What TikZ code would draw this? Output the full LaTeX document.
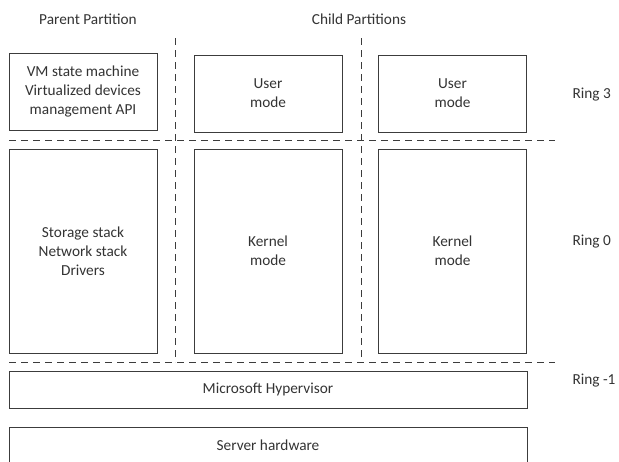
\documentclass[tikz,border=0pt]{standalone}
\usepackage{fontspec}
\setmainfont{Carlito}
\usepackage{xcolor}
\usetikzlibrary{positioning}
\definecolor{linegray}{HTML}{3C3C3C}
\definecolor{textgray}{HTML}{333333}

\begin{document}
\begin{tikzpicture}[
  x=1pt, y=-1pt,
  every node/.style={align=center, text=textgray, font=\fontsize{15.3}{19}\selectfont},
  box/.style={draw=linegray, line width=0.9pt, inner sep=0pt},
  small/.style={box, minimum width=148pt, minimum height=77pt},
  tall/.style={box, minimum width=148pt, minimum height=204pt},
  wide/.style={box, minimum width=518pt, minimum height=37pt},
  ring/.style={anchor=west},
  divider/.style={draw=linegray, line width=0.8pt, dash pattern=on 7pt off 5pt}
]
\useasboundingbox (0,0) rectangle (619,461);
% Headings
\node (parent) at (88,19) {Parent Partition};
\node (child) at (359,19) {Child Partitions};
% Ring 3
\node[small] (vm) at (83,91.5) {VM state machine\\Virtualized devices\\management API};
\node[small] (user1) at (268,93.5) {User\\mode};
\node[small] (user2) at (452.5,93.5) {User\\mode};
% Ring 0
\node[tall] (stack) at (83,251) {Storage stack\\Network stack\\Drivers};
\node[tall] (kernel1) at (268,251) {Kernel\\mode};
\node[tall] (kernel2) at (452.5,251) {Kernel\\mode};
% Ring -1 and below
\node[wide] (hyper) at (268,389.5) {Microsoft Hypervisor};
\node[wide] (hw) at (268,445.5) {Server hardware};
% Ring labels
\node[ring] (r3) at (569,95) {Ring 3};
\node[ring] (r0) at (569,242) {Ring 0};
\node[ring] (rm1) at (569,381) {Ring -1};
% Dashed dividers
\path[divider] (9,140) -- (555,140);
\path[divider] (9,362) -- (555,362);
\path[divider] (175,38) -- (175,362);
\path[divider] (361,38) -- (361,362);
\end{tikzpicture}
\end{document}
